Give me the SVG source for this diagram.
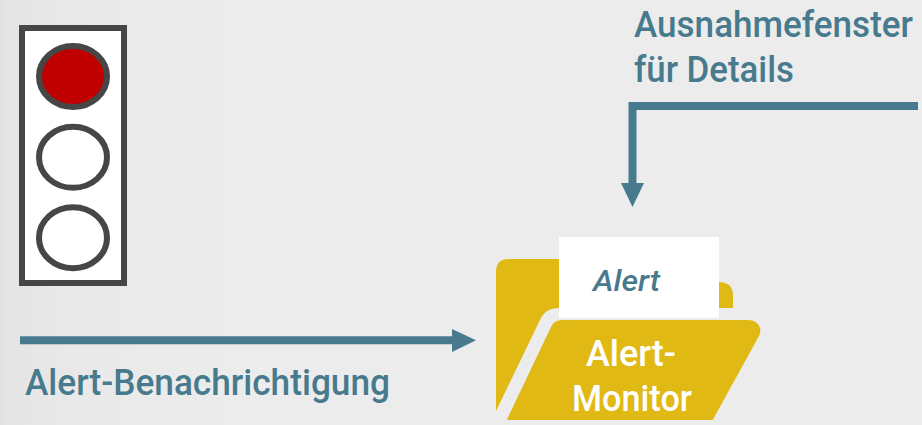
<svg xmlns="http://www.w3.org/2000/svg" width="922" height="425" viewBox="0 0 922 425">
<style>
text{font-family:Roboto,"Liberation Sans",sans-serif}
.t{fill:#487a8e;font-size:36px;font-weight:500}
.w{fill:#fff;font-size:36px;font-weight:500}
.f{fill:#e0b914}
.c{fill:none;stroke:#487a8e;stroke-width:8}
.h{fill:#487a8e}
.l{stroke:#464646;stroke-width:6}
</style>
<defs><linearGradient id="bg" x1="0" y1="0" x2="1" y2="0"><stop offset="0" stop-color="#e1e1e1"/><stop offset="0.01" stop-color="#e5e5e5"/><stop offset="0.08" stop-color="#e9e9e9"/><stop offset="0.25" stop-color="#ececec"/></linearGradient></defs>
<rect width="922" height="425" fill="url(#bg)"/>
<g id="traffic-light">
<rect class="l" x="22" y="28" width="102" height="255" fill="#fff"/>
<ellipse class="l" cx="73" cy="76.5" rx="34" ry="30.5" fill="#c00000"/>
<ellipse class="l" cx="73" cy="157.3" rx="34" ry="30.5" fill="#fff"/>
<ellipse class="l" cx="73" cy="237.7" rx="34" ry="30.5" fill="#fff"/>
</g>
<g id="connectors">
<path class="c" d="M20 340.3H455"/>
<path class="h" d="M452 329L476 340.3L452 352Z"/>
<path class="c" d="M918 106H632.5V185"/>
<path class="h" d="M621 183H644L632.5 207Z"/>
</g>
<g id="label-notification"><text class="t" x="25" y="395" textLength="365" lengthAdjust="spacingAndGlyphs">Alert-Benachrichtigung</text></g>
<g id="label-exception"><text class="t" x="634" y="36.7" textLength="279" lengthAdjust="spacingAndGlyphs">Ausnahmefenster</text><text class="t" x="634" y="82" textLength="160" lengthAdjust="spacingAndGlyphs">für Details</text></g>
<g id="alert-monitor">
<path class="f" d="M496 411V272Q496 259 509 259H600V308H559Q545 308 540 320Z"/>
<path class="f" d="M715 282H719Q733 282 733 296V308H715Z"/>
<rect x="559" y="237" width="160" height="81" fill="#fff"/>
<path class="f" d="M506.7 420L551 327Q554 320 562 320H748Q757 320 760 328Q761 332 759 336L712.7 420Z"/>
<text x="593" y="290.7" fill="#487a8e" font-size="30" font-style="italic" font-weight="500" textLength="67" lengthAdjust="spacingAndGlyphs">Alert</text>
<text class="w" x="586" y="366" textLength="90" lengthAdjust="spacingAndGlyphs">Alert-</text>
<text class="w" x="572" y="410.7" textLength="120" lengthAdjust="spacingAndGlyphs">Monitor</text>
</g>
</svg>
